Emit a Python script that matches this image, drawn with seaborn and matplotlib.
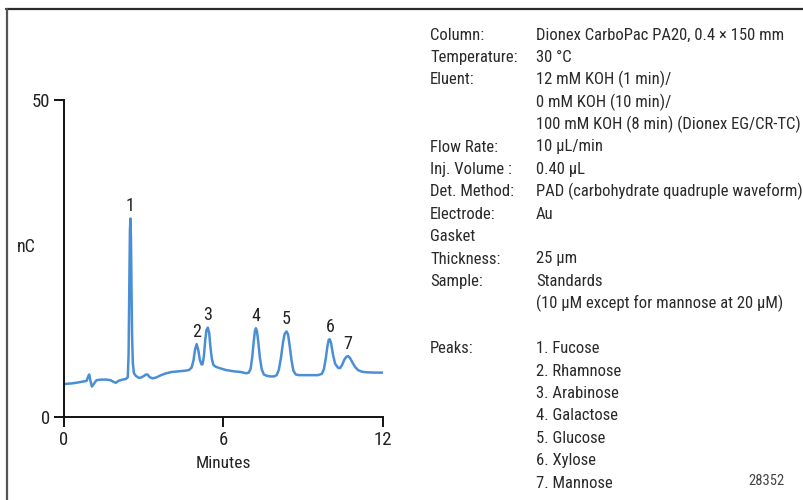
import matplotlib
matplotlib.use("Agg")
import matplotlib.pyplot as plt
from matplotlib.lines import Line2D
import numpy as np
import pandas as pd
import seaborn as sns

# Chromatogram trace: retention time (min) and detector response (nC)
minutes = [
    0.00, 0.30, 0.60, 0.85, 0.92, 0.95, 0.99, 1.05, 1.12, 1.22, 1.40, 1.60,
    1.75, 1.88, 1.95, 2.05, 2.20, 2.33, 2.40, 2.43, 2.46, 2.48, 2.50, 2.52,
    2.54, 2.56, 2.59, 2.63, 2.70, 2.80, 2.88, 2.98, 3.08, 3.14, 3.22, 3.32,
    3.45, 3.65, 3.85, 4.05, 4.30, 4.55, 4.70, 4.80, 4.87, 4.93, 4.99, 5.05,
    5.11, 5.17, 5.21, 5.26, 5.31, 5.36, 5.41, 5.46, 5.51, 5.56, 5.62, 5.72,
    5.86, 6.10, 6.40, 6.65, 6.85, 6.95, 7.02, 7.08, 7.14, 7.18, 7.22, 7.26,
    7.31, 7.37, 7.44, 7.52, 7.62, 7.75, 7.90, 8.00, 8.08, 8.16, 8.24, 8.30,
    8.37, 8.43, 8.49, 8.56, 8.63, 8.72, 8.85, 9.20, 9.55, 9.70, 9.78, 9.85,
    9.91, 9.96, 10.00, 10.05, 10.12, 10.20, 10.30, 10.38, 10.46, 10.54, 10.62,
    10.69, 10.76, 10.85, 10.95, 11.06, 11.20, 11.38, 11.70, 12.00,
]
signal_nc = [
    5.2, 5.3, 5.5, 5.7, 6.5, 6.7, 5.8, 4.8, 5.2, 5.8, 5.9, 5.9,
    5.8, 5.5, 5.4, 5.7, 5.9, 6.0, 6.3, 10.0, 22.0, 29.5, 31.3, 28.0,
    20.0, 13.0, 8.5, 6.9, 6.5, 6.2, 6.2, 6.4, 6.7, 6.7, 6.3, 6.1,
    6.2, 6.6, 6.9, 7.1, 7.2, 7.3, 7.4, 7.8, 8.9, 10.6, 11.5, 10.6,
    9.0, 8.3, 8.3, 9.5, 12.0, 13.7, 14.1, 13.3, 11.0, 9.2, 8.2, 7.9,
    7.7, 7.4, 7.2, 7.1, 6.9, 7.0, 7.6, 9.4, 12.0, 13.5, 14.0, 13.5,
    11.8, 9.3, 7.5, 6.7, 6.5, 6.4, 6.4, 6.6, 7.4, 9.3, 11.8, 13.1,
    13.5, 13.0, 11.2, 8.9, 7.3, 6.7, 6.6, 6.6, 6.6, 6.8, 7.6, 9.3,
    11.2, 12.2, 12.25, 11.6, 9.8, 8.4, 7.8, 7.7, 8.2, 9.0, 9.5,
    9.6, 9.3, 8.6, 7.9, 7.4, 7.15, 7.05, 7.0, 7.0,
]

# Peak numbers and their retention times
peak_ids = ["1", "2", "3", "4", "5", "6", "7"]
peak_times = [2.50, 4.99, 5.41, 7.22, 8.37, 10.00, 10.69]

x_ticks = [0, 6, 12]
y_ticks = [0, 50]

conditions = [
    ("Column:", "Dionex CarboPac PA20, 0.4 \u00d7 150 mm"),
    ("Temperature:", "30 \u00b0C"),
    ("Eluent:", "12 mM KOH (1 min)/"),
    ("", "0 mM KOH (10 min)/"),
    ("", "100 mM KOH (8 min) (Dionex EG/CR-TC)"),
    ("Flow Rate:", "10 \u00b5L/min"),
    ("Inj. Volume :", "0.40 \u00b5L"),
    ("Det. Method:", "PAD (carbohydrate quadruple waveform)"),
    ("Electrode:", "Au"),
    ("Gasket", ""),
    ("Thickness:", "25 \u00b5m"),
    ("Sample:", "Standards"),
    ("", "(10 \u00b5M except for mannose at 20 \u00b5M)"),
    ("", ""),
    ("Peaks:", "1. Fucose"),
    ("", "2. Rhamnose"),
    ("", "3. Arabinose"),
    ("", "4. Galactose"),
    ("", "5. Glucose"),
    ("", "6. Xylose"),
    ("", "7. Mannose"),
]

sns.set_theme(style="white")
plt.rcParams["font.family"] = ["Roboto Condensed", "Liberation Sans Narrow",
                               "Roboto", "DejaVu Sans"]

W, H = 804, 500
fig = plt.figure(figsize=(W / 100, H / 100), dpi=100)
fig.patch.set_facecolor("white")

# Chart area in pixel terms
x0, x1 = 64, 383
y_top, y_bot = 100, 417
ax = fig.add_axes([x0 / W, 1 - y_bot / H, (x1 - x0) / W, (y_bot - y_top) / H])

df = pd.DataFrame({"Minutes": minutes, "nC": signal_nc})
sns.lineplot(data=df, x="Minutes", y="nC", ax=ax, color="#4a8fd6",
             linewidth=1.8, sort=False, estimator=None)

ax.set_xlim(0, 12)
ax.set_ylim(0, 50)
ax.set_xticks(x_ticks)
ax.set_yticks(y_ticks)
ax.tick_params(axis="both", direction="out", length=7, width=1.4,
               color="#111111", labelsize=13.5, labelcolor="#222222",
               bottom=True, left=True, pad=3)
for side in ["top", "right"]:
    ax.spines[side].set_visible(False)
for side in ["left", "bottom"]:
    ax.spines[side].set_color("#111111")
    ax.spines[side].set_linewidth(1.4)
ax.set_facecolor("white")
ax.grid(False)

ax.set_xlabel("Minutes", fontsize=12.5, color="#222222", labelpad=5)
ax.set_ylabel("")
fig.text(17 / W, 1 - 247 / H, "nC", fontsize=13, color="#222222",
         ha="left", va="center")

# Peak number labels placed above each peak apex
t_arr = np.asarray(minutes)
s_arr = np.asarray(signal_nc)
for pid, pt in zip(peak_ids, peak_times):
    idx = int(np.argmin(np.abs(t_arr - pt)))
    ax.annotate(pid, xy=(t_arr[idx], s_arr[idx]), xytext=(0, 2.5),
                textcoords="offset points", ha="center", va="bottom",
                fontsize=13, color="#222222")

# Method conditions listed to the right of the chart
line0 = 35
step = 22.4
for i, (label, value) in enumerate(conditions):
    yy = 1 - (line0 + i * step) / H
    if label:
        fig.text(430 / W, yy, label, fontsize=12, color="#2a2a2a",
                 ha="left", va="center")
    if value:
        fig.text(536 / W, yy, value, fontsize=12, color="#2a2a2a",
                 ha="left", va="center")

fig.text(785 / W, 1 - 481 / H, "28352", fontsize=10.5, color="#444444",
         ha="right", va="center")

# Frame rules along the top and left edges
fig.add_artist(Line2D([6 / W, 1.0], [1 - 9 / H, 1 - 9 / H],
                      transform=fig.transFigure, color="#2b2b2b", linewidth=1.6))
fig.add_artist(Line2D([7 / W, 7 / W], [0.0, 1 - 9 / H],
                      transform=fig.transFigure, color="#555555", linewidth=1.6))

fig.savefig("out.png", dpi=100, facecolor="white")
